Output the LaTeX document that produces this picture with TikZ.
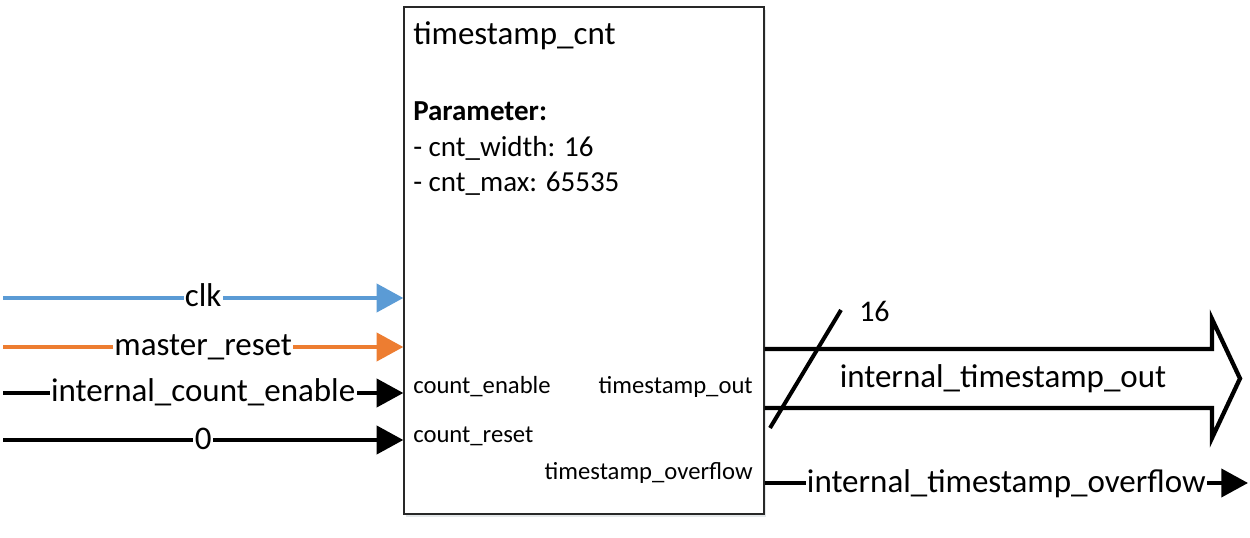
\documentclass[tikz,border=0pt]{standalone}
\usepackage{fontspec}
\setmainfont{Carlito}
\usepackage{tikz}
\usetikzlibrary{arrows.meta, shadows}
\definecolor{azulClk}{RGB}{91,155,213}
\definecolor{laranjaReset}{RGB}{237,125,49}
\definecolor{bordaBloco}{RGB}{40,40,40}

\begin{document}
\begin{tikzpicture}[
    x=0.75pt, y=-0.75pt,
    bloco/.style={draw=bordaBloco, line width=1pt, fill=white, minimum width=270pt, minimum height=380.25pt,
        drop shadow={shadow xshift=1.5pt, shadow yshift=-2pt, fill=azulClk!40!black, opacity=0.12}},
    titulo/.style={anchor=base west, inner sep=0pt, font=\fontsize{24.75}{30}\selectfont},
    param/.style={anchor=base west, inner sep=0pt, font=\fontsize{21.75}{26}\selectfont},
    porta/.style={inner sep=0pt, font=\fontsize{18.5}{22}\selectfont},
    rotulo/.style={midway, fill=white, inner xsep=1pt, inner ysep=0pt, text height=17.5pt, text depth=4pt, font=\fontsize{24.75}{30}\selectfont},
    sinal/.style={line width=3pt, -{Triangle[length=20pt, width=21pt]}},
    barramento/.style={line width=3.2pt, line join=miter}
]
    \useasboundingbox (0,0) rectangle (1250,538);

    % Bloco
    \node[bloco] (cnt) at (584,260.5) {};
    \node[titulo] (nome) at (413,45) {timestamp\_cnt};
    \node[param, font=\fontsize{21.75}{26}\selectfont\bfseries] (par) at (413,121) {Parameter:};
    \node[param] (par1) at (413,157) {- cnt\_width: 16};
    \node[param] (par2) at (413,192) {- cnt\_max: 65535};

    % Portas
    \node[porta, anchor=base west] (pen) at (413,393) {count\_enable};
    \node[porta, anchor=base west] (prst) at (413,442) {count\_reset};
    \node[porta, anchor=base east] (pout) at (753,393) {timestamp\_out};
    \node[porta, anchor=base east] (povf) at (753,479) {timestamp\_overflow};

    % Entradas
    \coordinate (clk) at (3,298);
    \coordinate (rst) at (3,347);
    \coordinate (en) at (3,393);
    \coordinate (zero) at (3,440);
    \draw[sinal, draw=azulClk, fill=azulClk] (clk) -- (clk -| cnt.west) node[rotulo] {clk};
    \draw[sinal, draw=laranjaReset, fill=laranjaReset] (rst) -- (rst -| cnt.west) node[rotulo] {master\_reset};
    \draw[sinal] (en) -- (en -| cnt.west) node[rotulo] {internal\_count\_enable};
    \draw[sinal] (zero) -- (zero -| cnt.west) node[rotulo] {0};

    % Saidas
    \coordinate (ovf) at (1248,483);
    \draw[sinal] (ovf -| cnt.east) -- (ovf) node[rotulo] {internal\_timestamp\_overflow};

    \coordinate (ponta) at (1240,378.5);
    \draw[barramento] (cnt.east |- 0,349) -- (1212,349) -- (1212,319) -- (ponta)
        -- (1212,438) -- (1212,408) -- (cnt.east |- 0,408);
    \node[font=\fontsize{24.75}{30}\selectfont] (busnome) at (1003,379) {internal\_timestamp\_out};
    \coordinate (barraA) at (770,428);
    \coordinate (barraB) at (841,310);
    \draw[line width=3pt] (barraA) -- (barraB);
    \node[anchor=west, inner sep=0pt, font=\fontsize{22.5}{26}\selectfont] (largura) at (859,311) {16};
\end{tikzpicture}
\end{document}
